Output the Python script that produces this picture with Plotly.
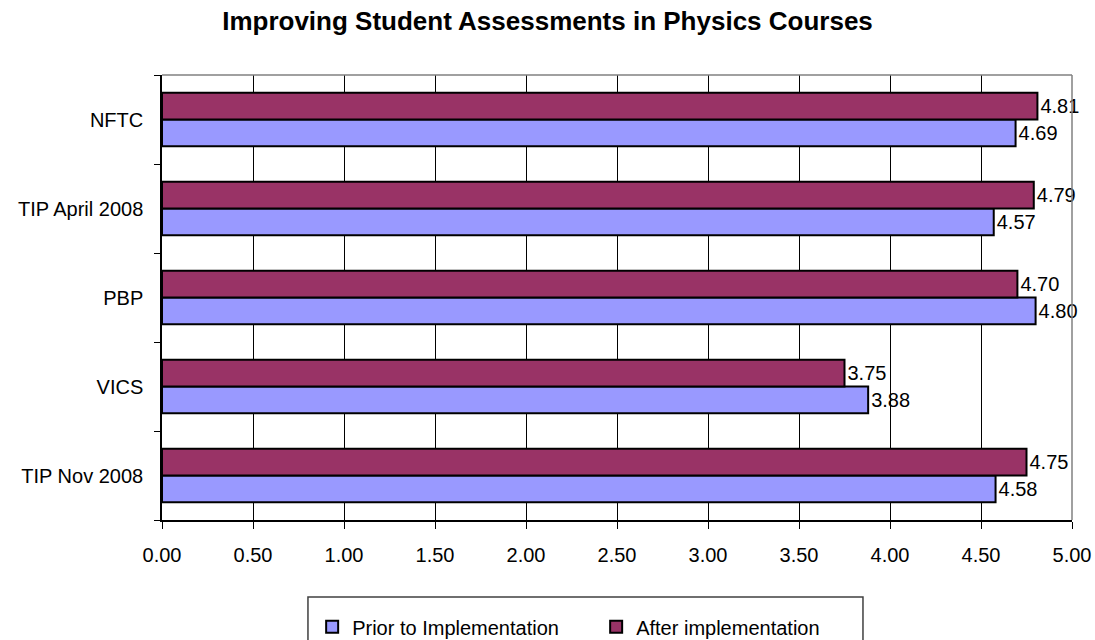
import plotly.graph_objects as go

# categories listed bottom-to-top (plotly draws the first category at the bottom)
categories = ["TIP Nov 2008", "VICS", "PBP", "TIP April 2008", "NFTC"]
prior = [4.58, 3.88, 4.80, 4.57, 4.69]
after = [4.75, 3.75, 4.70, 4.79, 4.81]
x_ticks = [0, 0.5, 1, 1.5, 2, 2.5, 3, 3.5, 4, 4.5, 5]

FONT = "Liberation Sans, Arial, sans-serif"

fig = go.Figure()

fig.add_trace(go.Bar(
    name="Prior to Implementation",
    y=categories,
    x=prior,
    orientation="h",
    marker=dict(color="#9999FF", line=dict(color="black", width=2)),
    text=[f"{v:.2f}" for v in prior],
    textposition="outside",
    textfont=dict(size=20, color="black"),
    cliponaxis=False,
))
fig.add_trace(go.Bar(
    name="After implementation",
    y=categories,
    x=after,
    orientation="h",
    marker=dict(color="#993366", line=dict(color="black", width=2)),
    text=[f"{v:.2f}" for v in after],
    textposition="outside",
    textfont=dict(size=20, color="black"),
    cliponaxis=False,
))

# grey frame on top and right of the plot area
fig.add_shape(type="line", xref="paper", yref="paper", x0=0, y0=1, x1=1, y1=1,
              line=dict(color="#808080", width=1.5), layer="above")
fig.add_shape(type="line", xref="paper", yref="paper", x0=1, y0=0, x1=1, y1=1,
              line=dict(color="#808080", width=1.5), layer="above")
# legend frame (runs off the bottom of the page like the original)
fig.add_shape(type="rect", xref="paper", yref="paper", x0=0.1604, y0=-0.173, x1=0.7703, y1=-0.33,
              line=dict(color="#404040", width=1.5), layer="above")

fig.update_layout(
    title=dict(text="<b>Improving Student Assessments in Physics Courses</b>",
               x=0.5, xref="container", xanchor="center",
               y=0.967, yref="container", yanchor="middle",
               font=dict(size=26, color="black", family=FONT)),
    width=1095, height=640,
    margin=dict(l=162, r=23, t=75, b=120, autoexpand=False),
    barmode="group",
    bargap=0.4,
    bargroupgap=0,
    plot_bgcolor="white",
    paper_bgcolor="white",
    font=dict(family=FONT, size=20, color="black"),
    showlegend=True,
    legend=dict(orientation="h", x=0.165, xanchor="left", y=-0.24, yanchor="middle",
                borderwidth=0, traceorder="normal", bgcolor="rgba(0,0,0,0)",
                font=dict(size=20), itemwidth=30, entrywidthmode="pixels", entrywidth=239),
)

fig.update_xaxes(
    range=[0, 5], tickvals=x_ticks, tickformat=".2f",
    showgrid=True, gridcolor="black", gridwidth=1,
    showline=True, linecolor="black", linewidth=1.5,
    ticks="outside", ticklen=7, tickcolor="black",
    ticklabelstandoff=9, automargin=False,
    zeroline=False, fixedrange=True,
)
fig.update_yaxes(
    categoryorder="array", categoryarray=categories,
    showgrid=False,
    showline=True, linecolor="black", linewidth=1.5,
    ticks="outside", ticklen=6, tickcolor="black", tickson="boundaries",
    ticklabelstandoff=13, automargin=False,
)

# drop the default page margin so the figure sits at the window's origin
fig.write_html("out.html", config={"displayModeBar": False},
               post_script="document.body.style.margin='0';")
